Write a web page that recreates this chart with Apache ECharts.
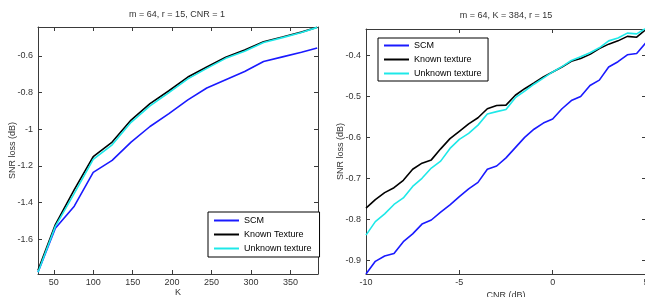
<!DOCTYPE html>
<html>
<head>
<meta charset="utf-8">
<script src="https://cdn.jsdelivr.net/npm/echarts@6/dist/echarts.min.js"></script>
<style>
  html, body { margin: 0; padding: 0; background: #fff; }
  #main { width: 645px; height: 297px; }
</style>
</head>
<body>
<div id="main"></div>
<script>
// left panel: SNR loss vs K
const kValues = [30, 52, 76, 100, 124, 148, 172, 196, 220, 244, 268, 292, 316, 340, 364, 384];
const scmByK = [-1.78, -1.54, -1.42, -1.235, -1.17, -1.07, -0.985, -0.915, -0.84, -0.775, -0.73, -0.685, -0.63, -0.605, -0.58, -0.557];
const knownByK = [-1.77, -1.52, -1.33, -1.15, -1.07, -0.95, -0.86, -0.79, -0.715, -0.66, -0.607, -0.568, -0.522, -0.497, -0.47, -0.443];
const unknownByK = [-1.78, -1.53, -1.35, -1.165, -1.085, -0.962, -0.872, -0.80, -0.725, -0.668, -0.613, -0.574, -0.527, -0.50, -0.472, -0.444];
const kTicks = [50, 100, 150, 200, 250, 300, 350];
const lossTicksK = [-1.6, -1.4, -1.2, -1, -0.8, -0.6];

// right panel: SNR loss vs CNR
const cnrValues = [-10, -9.5, -9, -8.5, -8, -7.5, -7, -6.5, -6, -5.5, -5, -4.5, -4, -3.5, -3, -2.5,
  -2, -1.5, -1, -0.5, 0, 0.5, 1, 1.5, 2, 2.5, 3, 3.5, 4, 4.5, 5];
const scmByCnr = [-0.934, -0.903, -0.89, -0.884, -0.855, -0.836, -0.812, -0.802, -0.783, -0.765, -0.745,
  -0.726, -0.71, -0.678, -0.67, -0.65, -0.625, -0.60, -0.58, -0.565, -0.555, -0.53, -0.51, -0.5,
  -0.473, -0.46, -0.428, -0.415, -0.398, -0.395, -0.368];
const knownByCnr = [-0.773, -0.752, -0.735, -0.723, -0.705, -0.678, -0.663, -0.655, -0.628, -0.603, -0.585,
  -0.567, -0.552, -0.53, -0.522, -0.521, -0.497, -0.481, -0.467, -0.452, -0.44, -0.428, -0.414, -0.407,
  -0.397, -0.383, -0.372, -0.364, -0.353, -0.355, -0.336];
const unknownByCnr = [-0.839, -0.806, -0.787, -0.764, -0.748, -0.72, -0.7, -0.675, -0.658, -0.627, -0.605,
  -0.59, -0.57, -0.543, -0.537, -0.532, -0.503, -0.487, -0.47, -0.455, -0.44, -0.427, -0.412, -0.403,
  -0.393, -0.381, -0.364, -0.357, -0.345, -0.347, -0.333];
const cnrTicks = [-10, -5, 0, 5];
const lossTicksCnr = [-0.9, -0.8, -0.7, -0.6, -0.5, -0.4];

const FONT = "'Liberation Sans', Arial, sans-serif";
const FS = 9;
const AXIS_COLOR = '#3a3a3a';
const TEXT_COLOR = '#333';

let zip = (xs, ys) => xs.map((x, i) => [x, ys[i]]);

// one side of the box; the labelled ones get labels, the opposite side only ticks
let makeAxis = (dim, grid, pos, min, max, ticks, labelled, extra) => Object.assign({
  type: 'value',
  gridIndex: grid,
  position: pos,
  min: min,
  max: max,
  splitLine: { show: false },
  axisLine: { show: true, onZero: false, lineStyle: { color: AXIS_COLOR, width: 1 } },
  axisTick: { show: true, inside: true, length: 4, customValues: ticks, lineStyle: { color: AXIS_COLOR } },
  axisLabel: {
    show: labelled,
    customValues: ticks,
    color: TEXT_COLOR,
    fontSize: FS,
    fontFamily: FONT,
    margin: dim === 'x' ? 4 : 5,
    formatter: v => String(Math.round(v * 100) / 100)
  }
}, extra || {});

let nameStyle = { fontSize: FS, color: TEXT_COLOR, fontFamily: FONT };
let axisName = (text, gap) => ({
  name: text, nameLocation: 'middle', nameGap: gap, nameMoveOverlap: false, nameTextStyle: nameStyle
});

let lineSeries = (name, color, data, xi, yi) => ({
  name: name,
  type: 'line',
  xAxisIndex: xi,
  yAxisIndex: yi,
  data: data,
  symbol: 'none',
  lineStyle: { color: color, width: 1.6 },
  itemStyle: { color: color },
  animation: false
});

let legendBox = (names, left, top, padding) => ({
  data: names,
  orient: 'vertical', left: left, top: top,
  backgroundColor: '#fff', borderColor: '#000', borderWidth: 1,
  padding: padding, itemGap: 5, itemWidth: 25, itemHeight: 9,
  itemStyle: { opacity: 0 },
  textStyle: { fontSize: FS, color: '#000', fontFamily: FONT },
  selectedMode: false
});

let chart = echarts.init(document.getElementById('main'));
chart.setOption({
  backgroundColor: '#fff',
  textStyle: { fontFamily: FONT },
  title: [
    { text: 'm = 64, r = 15, CNR = 1', left: 177, top: 10, padding: 0, textAlign: 'center',
      textStyle: { fontSize: FS, fontWeight: 'normal', color: TEXT_COLOR, fontFamily: FONT } },
    { text: 'm = 64, K = 384, r = 15', left: 506, top: 11, padding: 0, textAlign: 'center',
      textStyle: { fontSize: FS, fontWeight: 'normal', color: TEXT_COLOR, fontFamily: FONT } }
  ],
  grid: [
    { left: 38, top: 27, width: 280, height: 247, outerBoundsMode: 'none', containLabel: false },
    { left: 366, top: 29, width: 280, height: 245, outerBoundsMode: 'none', containLabel: false }
  ],
  xAxis: [
    makeAxis('x', 0, 'bottom', 30, 385, kTicks, true, axisName('K', 14)),
    makeAxis('x', 0, 'top', 30, 385, kTicks, false),
    makeAxis('x', 1, 'bottom', -10, 5, cnrTicks, true, axisName('CNR (dB)', 17)),
    makeAxis('x', 1, 'top', -10, 5, cnrTicks, false)
  ],
  yAxis: [
    makeAxis('y', 0, 'left', -1.79, -0.442, lossTicksK, true, axisName('SNR loss (dB)', 21)),
    makeAxis('y', 0, 'right', -1.79, -0.442, lossTicksK, false),
    makeAxis('y', 1, 'left', -0.934, -0.335, lossTicksCnr, true, axisName('SNR loss (dB)', 21)),
    makeAxis('y', 1, 'right', -0.934, -0.335, lossTicksCnr, false)
  ],
  legend: [
    legendBox(['SCM', 'Known Texture', 'Unknown texture'], 208, 212, [4, 8, 4, 5]),
    legendBox(['SCM', 'Known texture', 'Unknown texture '], 378, 38, [3, 4, 3, 5])
  ],
  series: [
    lineSeries('SCM', '#1a1aff', zip(kValues, scmByK), 0, 0),
    lineSeries('Known Texture', '#000', zip(kValues, knownByK), 0, 0),
    lineSeries('Unknown texture', '#1ee8e8', zip(kValues, unknownByK), 0, 0),
    lineSeries('SCM', '#1a1aff', zip(cnrValues, scmByCnr), 2, 2),
    lineSeries('Known texture', '#000', zip(cnrValues, knownByCnr), 2, 2),
    lineSeries('Unknown texture ', '#1ee8e8', zip(cnrValues, unknownByCnr), 2, 2)
  ]
});
</script>
</body>
</html>
